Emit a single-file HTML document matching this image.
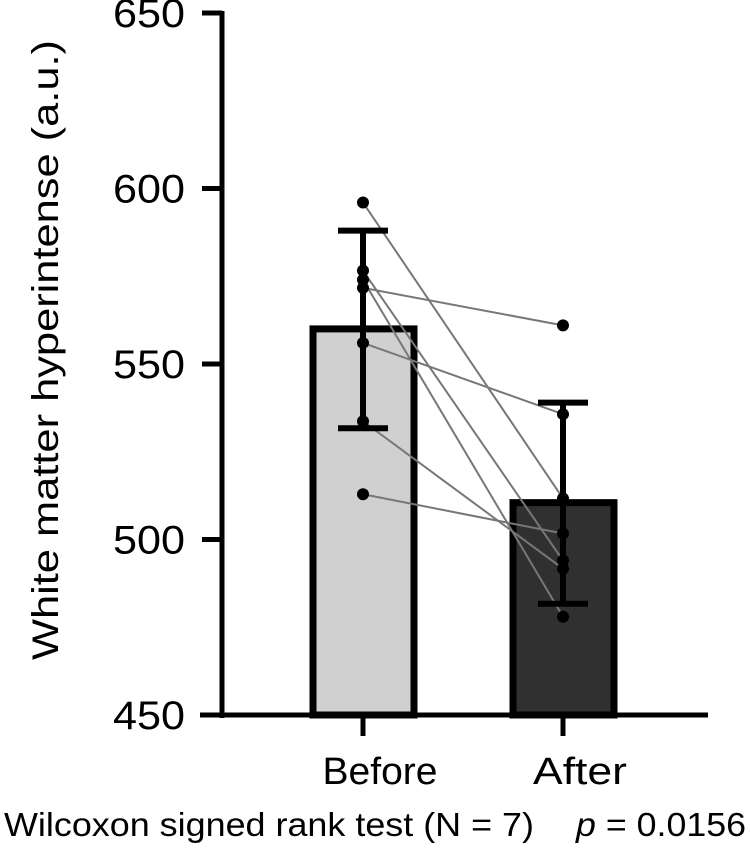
<!DOCTYPE html>
<html><head><meta charset="utf-8"><style>
html,body{margin:0;padding:0;background:#fff}
svg{display:block;font-family:"Liberation Sans",Arial,sans-serif}
</style></head><body>
<svg id="chart" width="750" height="851" viewBox="0 0 750 851"></svg>
<script>
const categories = ["Before", "After"];
const barMeans = [560, 510.5];
const errLow = [531.7, 481.7];
const errHigh = [588, 539];
const beforeValues = [596, 576.6, 574, 571.7, 556, 533.7, 512.9];
const afterValues = [511.7, 494, 478, 561, 535.7, 491.7, 501.7];
const yTicks = [450, 500, 550, 600, 650];

const svg = document.getElementById('chart');
const NS = 'http://www.w3.org/2000/svg';
const y = v => 715 - (v - 450) * (702 / 200);
const xc = i => 363 + i * 200;
function mk(tag, attrs, parent) {
  const e = document.createElementNS(NS, tag);
  for (const k in attrs) e.setAttribute(k, attrs[k]);
  (parent || svg).appendChild(e);
  return e;
}
const fills = ['#d0d0d0', '#303030'];
categories.forEach((c, i) => {
  const b = mk('rect', {x: xc(i) - 50, y: y(barMeans[i]), width: 101, height: 715 - y(barMeans[i]), fill: fills[i], stroke: '#000', 'stroke-width': 7});
  
  
});
beforeValues.forEach((v, k) => {
  const l = mk('line', {x1: xc(0), y1: y(v), x2: xc(1), y2: y(afterValues[k]), stroke: '#777', 'stroke-width': 2});
  
  
});
categories.forEach((c, i) => {
  const g = mk('g', {stroke: '#000', 'stroke-width': 6});
  
  
  mk('line', {x1: xc(i), x2: xc(i), y1: y(errHigh[i]), y2: y(errLow[i])}, g);
  mk('line', {x1: xc(i) - 25, x2: xc(i) + 25, y1: y(errHigh[i]), y2: y(errHigh[i])}, g);
  mk('line', {x1: xc(i) - 25, x2: xc(i) + 25, y1: y(errLow[i]), y2: y(errLow[i])}, g);
});
[beforeValues, afterValues].forEach((arr, i) => {
  arr.forEach(v => {
    const p = mk('circle', {cx: xc(i), cy: y(v), r: 6, fill: '#000'});
    
    
  });
});
const ya = mk('line', {x1: 222, x2: 222, y1: 11, y2: 718, stroke: '#000', 'stroke-width': 5});


const xa = mk('line', {x1: 200, x2: 708, y1: 715, y2: 715, stroke: '#000', 'stroke-width': 5});


yTicks.forEach(t => {
  mk('line', {x1: 202, x2: 222, y1: y(t), y2: y(t), stroke: '#000', 'stroke-width': 5});
  const tx = mk('text', {x: 185, y: y(t) + 14, 'text-anchor': 'end', 'font-size': 40, fill: '#000', textLength: 72, lengthAdjust: 'spacingAndGlyphs'});
  tx.textContent = t;
  
  
});
const catW = [115, 94];
categories.forEach((c, i) => {
  mk('line', {x1: xc(i), x2: xc(i), y1: 715, y2: 736, stroke: '#000', 'stroke-width': 5});
  const tx = mk('text', {x: xc(i) + 17, y: 784, 'text-anchor': 'middle', 'font-size': 38, fill: '#000', textLength: catW[i], lengthAdjust: 'spacingAndGlyphs'});
  tx.textContent = c;
  
  
});
const yt = mk('text', {x: 0, y: 0, transform: 'translate(58,350) rotate(-90)', 'text-anchor': 'middle', 'font-size': 37, fill: '#000', textLength: 620, lengthAdjust: 'spacingAndGlyphs'});
yt.textContent = 'White matter hyperintense (a.u.)';


const ft = mk('text', {x: 4, y: 836, 'font-size': 33, fill: '#000', textLength: 530, lengthAdjust: 'spacingAndGlyphs'});
ft.textContent = 'Wilcoxon signed rank test (N = 7)';


const pv = mk('text', {x: 576, y: 836, 'font-size': 33, fill: '#000', textLength: 170, lengthAdjust: 'spacingAndGlyphs'});
pv.innerHTML = '<tspan font-style="italic">p</tspan> = 0.0156';


</script>
</body></html>
